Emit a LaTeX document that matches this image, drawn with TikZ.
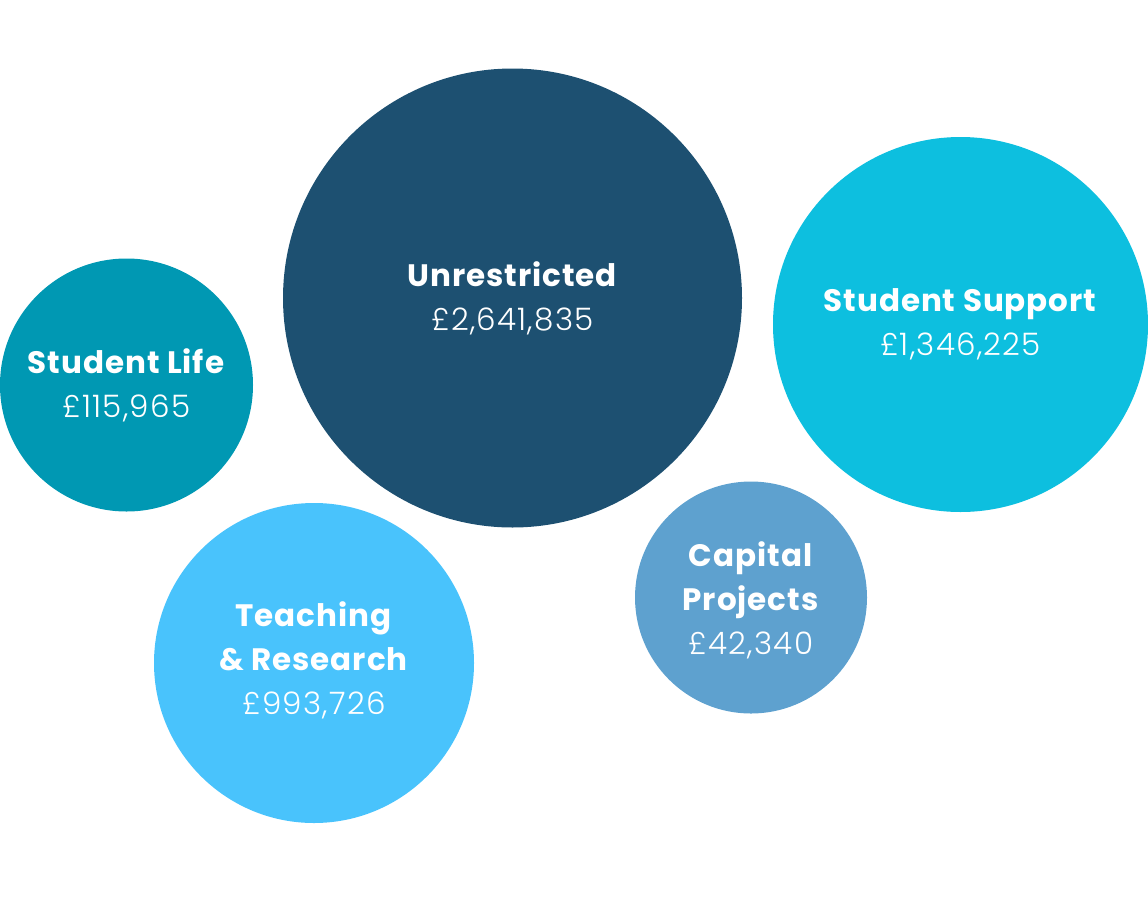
\documentclass[tikz,border=0pt]{standalone}
\usepackage{fontspec}
\setmainfont{Poppins}[BoldFont={Poppins Bold},BoldFeatures={LetterSpace=3}]
\newfontfamily\lightfont{Poppins Light}[LetterSpace=4]
\definecolor{cUnres}{HTML}{1D5071}
\definecolor{cSupp}{HTML}{0DBFDF}
\definecolor{cLife}{HTML}{0098B3}
\definecolor{cTeach}{HTML}{49C3FC}
\definecolor{cCap}{HTML}{5EA1CF}
\tikzset{
  bubble/.style={circle, inner sep=0pt, text=white, align=center,
    font=\fontsize{31}{44}\selectfont},
  label text/.style={text=white, align=center, inner sep=0pt,
    font=\fontsize{31}{44}\selectfont},
}
\newcommand{\ttl}[1]{\textbf{#1}}
\newcommand{\val}[1]{{\lightfont #1}}
\begin{document}
\begin{tikzpicture}[x=1pt,y=-1pt]
\useasboundingbox (0,0) rectangle (1148,900);
\node[bubble, fill=cUnres, minimum size=459] (unres) at (512.5,298) {\ttl{Unrestricted}\\\val{£2,641,835}};
\node[bubble, fill=cSupp, minimum size=375] (supp) at (960.5,324.5) {\ttl{Student Support}\\\val{£1,346,225}};
\node[bubble, fill=cLife, minimum size=253] (life) at (126.5,385) {\ttl{Student Life}\\\val{£115,965}};
\node[bubble, fill=cTeach, minimum size=320] (teach) at (314,663) {};
\node[label text] (teachtxt) at ([yshift=3]teach.center) {\ttl{Teaching}\hspace{10pt}\\\ttl{\& Research}\\\val{£993,726}};
\node[bubble, fill=cCap, minimum size=232] (cap) at (751,597.5) {};
\node[label text] (captxt) at ([yshift=-3]cap.center) {\ttl{Capital}\\\ttl{Projects}\\\val{£42,340}};
\end{tikzpicture}
\end{document}
